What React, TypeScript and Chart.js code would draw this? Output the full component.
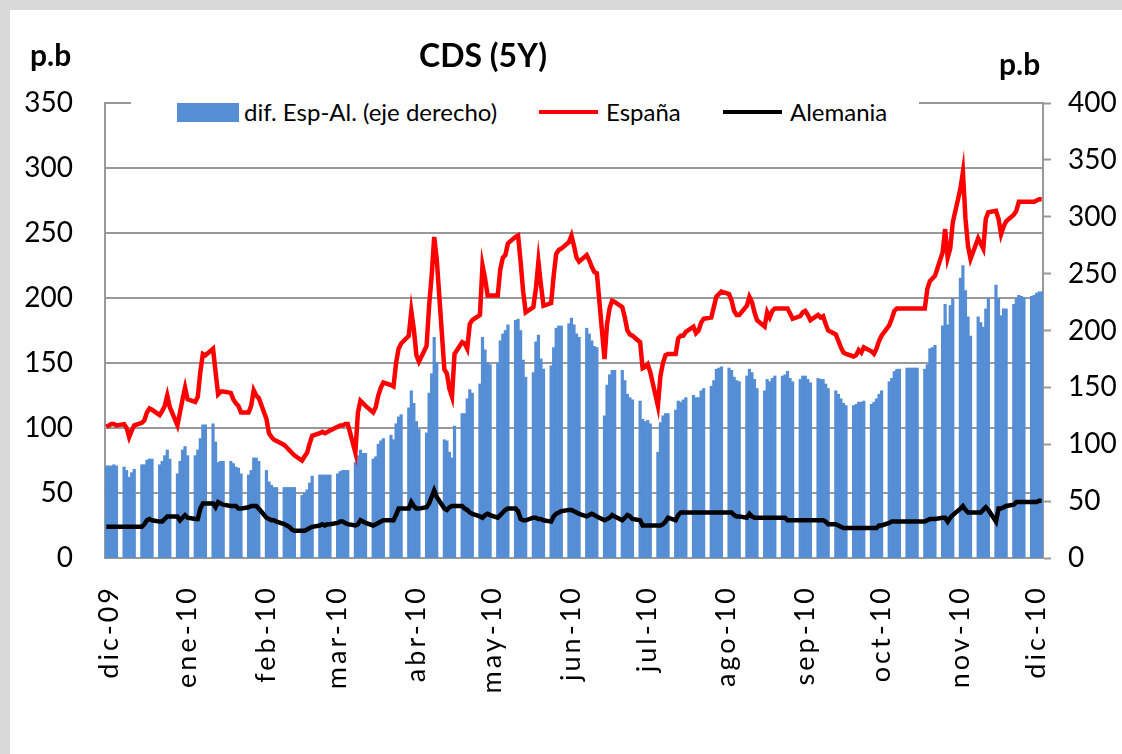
import { useEffect, useRef } from 'react';
import { Chart, registerables } from 'chart.js';

Chart.register(...registerables);

// Calendar range shown on the date axis: Mon 30-Nov-2009 .. Fri 03-Dec-2010
const FIRST_DAY = { year: 2009, month: 10, day: 30 };
const TOTAL_DAYS = 369;

const MONTH_LABELS = ['dic-09', 'ene-10', 'feb-10', 'mar-10', 'abr-10', 'may-10', 'jun-10', 'jul-10', 'ago-10', 'sep-10', 'oct-10', 'nov-10', 'dic-10'];

// Business-day values (Mon..Fri), week by week
const ESPANA = [
  101, 102, 103, 103, 102, 103, 100, 93, 98, 102, 104, 106, 112, 115, 114, 110, 113, 117, 125, 116,
  102, 112, 122, 131, 122, 120, 124, 143, 157, 156, 161, 143, 126, 128, 128, 127, 122, 119, 117, 112,
  112, 117, 129, 125, 123, 107, 96, 93, 91, 90, 87, 85, 83, 81, 79, 75, 78, 81, 88, 94,
  96, 97, 96, 97, 98, 101, 102, 102, 103, 103, 81, 112, 121, 119, 117, 112, 116, 125, 131, 135,
  133, 132, 150, 161, 165, 171, 190, 176, 156, 151, 163, 194, 217, 247, 230, 145, 142, 130, 124, 157,
  166, 165, 161, 180, 183, 187, 225, 215, 202, 202, 202, 222, 231, 233, 242, 247, 248, 228, 205, 189,
  193, 207, 228, 210, 194, 196, 217, 234, 237, 238, 243, 248, 240, 231, 228, 233, 229, 224, 220, 219,
  153, 180, 192, 198, 197, 193, 185, 175, 172, 171, 166, 146, 147, 149, 143, 117, 140, 150, 156, 157,
  157, 169, 171, 171, 174, 178, 173, 175, 181, 184, 185, 193, 201, 203, 205, 203, 198, 190, 187, 187,
  194, 201, 197, 189, 183, 178, 189, 185, 190, 192, 192, 192, 192, 188, 184, 186, 189, 190, 187, 183,
  187, 185, 186, 180, 175, 172, 167, 162, 158, 157, 155, 156, 160, 158, 162, 159, 157, 161, 167, 171,
  179, 184, 190, 192, 192, 192, 192, 192, 192, 192, 192, 207, 213, 215, 217, 235, 253, 231, 238, 258,
  284, 297, 261, 240, 230, 246, 242, 238, 261, 266, 267, 261, 249, 255, 259, 264, 267, 274, 274, 274,
  274, 274, 275, 276, 276,
];

const ALEMANIA = [
  24, 24, 24, 24, 24, 24, 24, 24, 24, 24, 24, 26, 29, 30, 29, 28, 28, 30, 32, 32,
  32, 29, 31, 33, 31, 30, 30, 38, 42, 42, 42, 39, 43, 42, 41, 40, 40, 40, 38, 38,
  39, 40, 40, 40, 38, 31, 30, 29, 29, 28, 26, 25, 24, 22, 21, 21, 21, 22, 23, 24,
  25, 26, 25, 26, 26, 27, 28, 28, 27, 26, 25, 26, 29, 28, 27, 25, 26, 27, 28, 29,
  29, 29, 33, 38, 38, 38, 43, 40, 38, 38, 39, 42, 47, 52, 47, 38, 37, 39, 40, 40,
  40, 38, 37, 35, 34, 32, 31, 33, 34, 33, 31, 33, 35, 37, 38, 38, 36, 30, 29, 29,
  31, 31, 30, 30, 29, 28, 32, 34, 35, 36, 37, 37, 36, 35, 34, 32, 33, 34, 33, 32,
  29, 30, 31, 33, 32, 29, 31, 33, 32, 30, 29, 25, 25, 25, 25, 25, 25, 26, 28, 31,
  29, 33, 35, 35, 35, 35, 35, 35, 35, 35, 35, 35, 35, 35, 35, 35, 35, 33, 32, 32,
  31, 34, 32, 31, 31, 31, 31, 31, 31, 31, 31, 31, 29, 29, 29, 29, 29, 29, 29, 29,
  29, 29, 29, 28, 26, 26, 25, 24, 23, 23, 23, 23, 23, 23, 23, 23, 23, 23, 25, 25,
  27, 28, 28, 28, 28, 28, 28, 28, 28, 28, 28, 29, 30, 30, 30, 31, 31, 28, 31, 33,
  38, 40, 37, 35, 35, 35, 35, 37, 39, 37, 28, 38, 38, 39, 40, 41, 43, 43, 43, 43,
  43, 43, 43, 44, 44,
];

const DIFERENCIAL = [
  81, 81, 81, 82, 81, 80, 77, 71, 75, 78, 82, 82, 86, 87, 87, 82, 85, 90, 95, 87,
  74, 85, 95, 98, 90, 90, 95, 105, 117, 117, 118, 102, 84, 85, 85, 85, 83, 80, 79, 74,
  73, 77, 88, 88, 85, 77, 67, 64, 62, 62, 62, 62, 62, 62, 62, 55, 57, 60, 66, 72,
  73, 73, 73, 73, 73, 74, 76, 77, 77, 77, 84, 90, 95, 92, 92, 87, 89, 100, 103, 105,
  108, 104, 118, 124, 126, 132, 147, 136, 120, 113, 110, 145, 162, 194, 172, 104, 103, 93, 88, 116,
  127, 127, 140, 148, 145, 153, 194, 183, 172, 170, 171, 191, 197, 200, 205, 209, 210, 200, 174, 159,
  163, 190, 196, 175, 166, 169, 185, 202, 204, 204, 206, 211, 205, 197, 194, 202, 197, 191, 186, 185,
  125, 152, 161, 165, 165, 165, 156, 144, 141, 139, 138, 122, 120, 121, 118, 93, 119, 125, 127, 127,
  130, 138, 137, 139, 141, 143, 141, 141, 147, 149, 151, 156, 166, 167, 168, 167, 165, 159, 156, 155,
  160, 166, 163, 157, 149, 147, 157, 155, 158, 160, 160, 161, 164, 158, 155, 157, 160, 160, 157, 154,
  158, 157, 157, 153, 149, 147, 144, 140, 136, 134, 134, 135, 137, 137, 138, 135, 137, 140, 144, 147,
  155, 158, 164, 166, 166, 167, 167, 167, 167, 167, 166, 170, 184, 185, 187, 204, 223, 205, 222, 228,
  246, 257, 235, 212, 195, 212, 207, 203, 219, 228, 240, 228, 213, 219, 219, 223, 228, 231, 230, 229,
  230, 231, 233, 234, 234,
];

const GRID = '#999999';
const FONT = 'Lato, "Open Sans", sans-serif';

const DAYS: Date[] = [];
for (let i = 0; i < TOTAL_DAYS; i++) {
  DAYS.push(new Date(FIRST_DAY.year, FIRST_DAY.month, FIRST_DAY.day + i));
}
const CATEGORIES = DAYS.map((d) => `${d.getDate()}/${d.getMonth() + 1}/${d.getFullYear()}`);

function onCalendar(values: number[]) {
  let k = 0;
  return DAYS.map((d) => {
    const wd = d.getDay();
    if (wd === 0 || wd === 6) return null;
    const v = values[k];
    k += 1;
    return v === undefined ? null : v;
  });
}

function monthTick(index: number) {
  const d = DAYS[index];
  if (!d || d.getDate() !== 1) return '';
  const m = (d.getFullYear() - 2009) * 12 + d.getMonth() - 11;
  return MONTH_LABELS[m] ?? '';
}

const letterSpacingPlugin = {
  id: 'xLabelSpacing',
  afterDatasetsDraw(chart: any) {
    (chart.ctx as any).letterSpacing = '3px';
  },
  afterDraw(chart: any) {
    (chart.ctx as any).letterSpacing = '0px';
  },
};

export default function App() {
  const ref = useRef<HTMLCanvasElement>(null);

  useEffect(() => {
    const canvas = ref.current;
    if (!canvas) return;
    const chart = new Chart(canvas, {
      type: 'bar',
      data: {
        labels: CATEGORIES,
        datasets: [
          {
            type: 'line',
            label: 'Alemania',
            data: onCalendar(ALEMANIA),
            borderColor: '#000000',
            backgroundColor: '#000000',
            borderWidth: 4.5,
            pointRadius: 0,
            spanGaps: true,
            tension: 0,
            yAxisID: 'y',
            order: 1,
          },
          {
            type: 'line',
            label: 'España',
            data: onCalendar(ESPANA),
            borderColor: '#ff0000',
            backgroundColor: '#ff0000',
            borderWidth: 4.5,
            pointRadius: 0,
            spanGaps: true,
            tension: 0,
            yAxisID: 'y',
            order: 2,
          },
          {
            type: 'bar',
            label: 'dif. Esp-Al. (eje derecho)',
            data: onCalendar(DIFERENCIAL),
            backgroundColor: '#558ed5',
            borderWidth: 0,
            barPercentage: 1,
            categoryPercentage: 1,
            yAxisID: 'y1',
            order: 3,
          },
        ] as any,
      },
      options: {
        responsive: false,
        maintainAspectRatio: false,
        animation: false,
        layout: { padding: { top: 103, left: 0, right: 0, bottom: 0 } },
        plugins: {
          legend: { display: false },
          title: { display: false },
          tooltip: { enabled: false },
        },
        scales: {
          x: {
            type: 'category',
            offset: true,
            grid: { display: false, drawTicks: false },
            border: { display: false },
            ticks: {
              autoSkip: false,
              minRotation: 90,
              maxRotation: 90,
              padding: 27,
              color: '#000000',
              font: { family: FONT, size: 27 },
              z: 1,
              callback: (_v: any, i: number) => monthTick(i),
            },
            afterFit: (s: any) => {
              s.height = 196;
            },
          },
          y: {
            position: 'left',
            min: 0,
            max: 350,
            ticks: {
              stepSize: 50,
              padding: 32,
              color: '#000000',
              font: { family: FONT, size: 28 },
            },
            grid: { color: GRID, lineWidth: 2, drawTicks: false },
            border: { display: true, color: GRID, width: 2 },
            afterFit: (s: any) => {
              s.width = 105;
            },
          },
          y1: {
            position: 'right',
            min: 0,
            max: 400,
            ticks: {
              stepSize: 50,
              padding: 17,
              color: '#000000',
              font: { family: FONT, size: 28 },
            },
            grid: {
              drawOnChartArea: false,
              drawTicks: true,
              tickLength: 8,
              tickColor: GRID,
              tickWidth: 2,
              color: GRID,
            },
            border: { display: true, color: GRID, width: 2 },
            afterFit: (s: any) => {
              s.width = 79;
            },
          },
        } as any,
      },
      plugins: [letterSpacingPlugin],
    } as any);
    return () => chart.destroy();
  }, []);

  const legendText: any = {
    position: 'absolute',
    top: 96,
    height: 32,
    lineHeight: '32px',
    fontSize: 24,
    color: '#000',
    whiteSpace: 'nowrap',
  };

  return (
    <div
      style={{
        position: 'absolute',
        left: 0,
        top: 0,
        width: 1122,
        height: 754,
        overflow: 'hidden',
        background: '#d9d9d9',
        fontFamily: FONT,
      }}
    >
      <div style={{ position: 'absolute', left: 10, top: 10, width: 1112, height: 744, background: '#ffffff' }} />
      <canvas
        ref={ref}
        width={1122}
        height={754}
        style={{ position: 'absolute', left: 0, top: 0, width: 1122, height: 754 }}
      />
      <div style={{ position: 'absolute', left: 30, top: 36, fontSize: 30, fontWeight: 700, lineHeight: '36px' }}>p.b</div>
      <div style={{ position: 'absolute', left: 999, top: 45, fontSize: 30, fontWeight: 700, lineHeight: '36px' }}>p.b</div>
      <div
        style={{
          position: 'absolute',
          left: 333,
          top: 35,
          width: 300,
          textAlign: 'center',
          fontSize: 32,
          fontWeight: 700,
          lineHeight: '40px',
        }}
      >
        CDS (5Y)
      </div>
      <div style={{ position: 'absolute', left: 131, top: 92, width: 788, height: 36, background: '#ffffff' }} />
      <div style={{ position: 'absolute', left: 177, top: 103, width: 62, height: 19, background: '#558ed5' }} />
      <div style={{ ...legendText, left: 244 }}>dif. Esp-Al. (eje derecho)</div>
      <div style={{ position: 'absolute', left: 539, top: 110, width: 59, height: 4, background: '#ff0000' }} />
      <div style={{ ...legendText, left: 606 }}>España</div>
      <div style={{ position: 'absolute', left: 723, top: 110, width: 59, height: 4, background: '#000000' }} />
      <div style={{ ...legendText, left: 790 }}>Alemania</div>
    </div>
  );
}
